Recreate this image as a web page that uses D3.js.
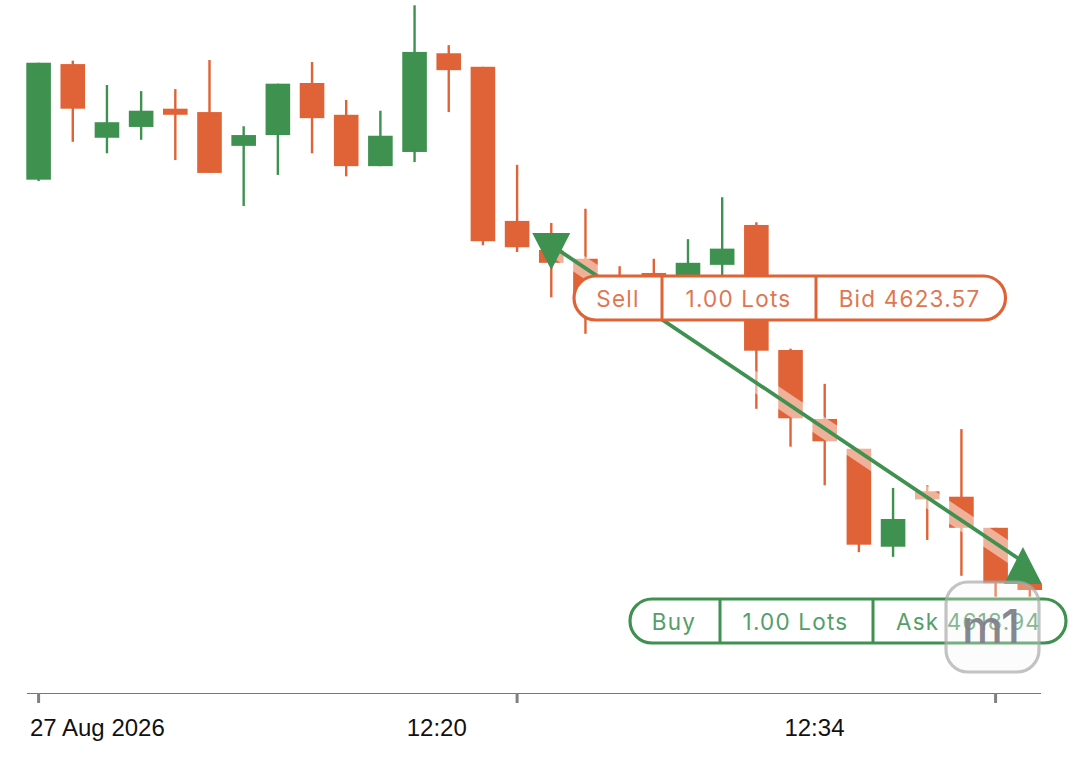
<!DOCTYPE html>
<html>
<head>
<meta charset="utf-8">
<script src="https://cdn.jsdelivr.net/npm/d3@7"></script>
<style>html,body{margin:0;padding:0;background:#fff;overflow:hidden}svg{display:block}</style>
</head>
<body>
<svg id="chart" width="1082" height="769"></svg>
<script>
const opens  = [4624.64,4626.35,4625.26,4625.42,4625.69,4625.64,4625.14,4625.30,4626.07,4625.60,4624.84,4625.05,4626.51,4626.31,4624.03,4623.60,4623.47,4623.23,4623.26,4623.16,4623.38,4623.97,4622.12,4621.10,4620.66,4619.21,4620.03,4619.95,4619.49,4618.66];
const highs  = [4626.37,4626.40,4626.04,4625.95,4625.98,4626.41,4625.43,4626.06,4626.38,4625.82,4625.66,4627.22,4626.63,4626.31,4624.86,4624.00,4624.21,4623.36,4623.47,4623.76,4624.38,4624.01,4622.14,4621.62,4620.66,4620.08,4620.12,4620.95,4619.49,4618.66];
const lows   = [4624.62,4625.20,4625.03,4625.23,4624.93,4624.74,4624.25,4624.71,4625.03,4624.69,4624.84,4624.90,4625.64,4623.67,4623.57,4622.90,4622.36,4622.86,4622.90,4623.16,4623.23,4621.25,4620.69,4620.12,4619.13,4619.06,4619.31,4618.78,4618.47,4618.47];
const closes = [4626.37,4625.69,4625.49,4625.66,4625.60,4624.74,4625.30,4626.06,4625.55,4624.84,4625.29,4626.53,4626.26,4623.73,4623.64,4623.41,4622.86,4622.90,4623.22,4623.41,4623.62,4622.11,4621.11,4620.77,4619.24,4619.62,4619.91,4619.49,4618.67,4618.57];

const tickIndex   = [0, 14, 28];
const labelIndex  = [1.72, 11.65, 22.7];
const tickLabels  = ["27 Aug 2026", "12:20", "12:34"];

const tradeIndex  = [15, 28.8];
const tradePrices = [4623.67, 4618.99];

const sellCells = ["Sell", "1.00 Lots", "Bid 4623.57"];
const buyCells  = ["Buy", "1.00 Lots", "Ask 4618.94"];
const watermark = "m1";

const GREEN = "#3f9150", ORANGE = "#e06337";
const svg = d3.select("#chart");

const x = d3.scaleLinear().domain([0, 28]).range([38.6, 995.6]);
const y = d3.scaleLinear().domain([4627.298, 4610.0]).range([0, 1169.3]);

const candles = opens.map((o, i) => ({i, o, h: highs[i], l: lows[i], c: closes[i]}));
const bodyW = 24.6;

const gc = svg.append("g");
const colorOf = d => d.c >= d.o ? GREEN : ORANGE;
gc.selectAll(".wick").data(candles).join("line")
  .attr("x1", d => x(d.i)).attr("x2", d => x(d.i))
  .attr("y1", d => y(d.h)).attr("y2", d => y(d.l))
  .attr("stroke", colorOf).attr("stroke-width", 2.4);
gc.selectAll(".body").data(candles).join("rect")
  .attr("x", d => x(d.i) - bodyW / 2).attr("width", bodyW)
  .attr("y", d => y(Math.max(d.o, d.c)))
  .attr("height", d => Math.abs(y(d.o) - y(d.c)))
  .attr("fill", colorOf);

// trade line: translucent halo + green core
const tp = tradeIndex.map((t, i) => [x(t), y(tradePrices[i])]);
const line = d3.line();
svg.append("path").attr("d", line(tp)).attr("fill", "none")
  .attr("stroke", "#fff").attr("stroke-opacity", 0.5).attr("stroke-width", 19);
svg.append("path").attr("d", line(tp)).attr("fill", "none")
  .attr("stroke", GREEN).attr("stroke-width", 3.8);

// trade markers
const triPath = (cx, cy, dir) => d3.line()([
  [cx - 19, cy - dir * 19], [cx + 19, cy - dir * 19], [cx, cy + dir * 18]
]) + "Z";
svg.append("path").attr("d", triPath(tp[0][0], 252, 1)).attr("fill", GREEN);
svg.append("path").attr("d", triPath(tp[1][0], 565, -1)).attr("fill", GREEN);

// badges
function badge(left, top, w, h, dividers, centers, cells, color, textColor) {
  const g = svg.append("g");
  g.append("rect").attr("x", left).attr("y", top).attr("width", w).attr("height", h)
    .attr("rx", h / 2).attr("fill", "#fff").attr("stroke", color).attr("stroke-width", 3.2);
  g.selectAll("line").data(dividers).join("line")
    .attr("x1", d => d).attr("x2", d => d).attr("y1", top).attr("y2", top + h)
    .attr("stroke", color).attr("stroke-width", 3);
  g.selectAll("text").data(cells).join("text")
    .attr("x", (d, i) => centers[i]).attr("y", top + h / 2 + 8.5)
    .attr("text-anchor", "middle")
    .attr("font-family", "Inter, 'Open Sans', sans-serif")
    .attr("font-size", 22.5).attr("letter-spacing", 1.2)
    .attr("fill", textColor).text(d => d);
}
badge(574, 276, 431.5, 44, [662, 816], [618, 738.5, 909.5], sellCells, ORANGE, "#e07650");
badge(630, 599, 436, 44, [720, 873], [674, 795.5, 968.5], buyCells, GREEN, "#559e68");

// x axis
const ax = svg.append("g");
ax.append("line").attr("x1", 27).attr("x2", 1041).attr("y1", 693.5).attr("y2", 693.5)
  .attr("stroke", "#777").attr("stroke-width", 1.2);
ax.selectAll(".tick").data(tickIndex).join("line")
  .attr("x1", d => x(d)).attr("x2", d => x(d)).attr("y1", 693).attr("y2", 703)
  .attr("stroke", "#808080").attr("stroke-width", 3);
ax.selectAll("text").data(tickLabels).join("text")
  .attr("x", (d, i) => x(labelIndex[i])).attr("y", 736)
  .attr("text-anchor", "middle")
  .attr("font-family", "'Liberation Sans', Arial, sans-serif")
  .attr("font-size", 24).attr("fill", "#111").text(d => d);

// watermark
svg.append("rect").attr("x", 946).attr("y", 582).attr("width", 93).attr("height", 90).attr("rx", 22)
  .attr("fill", "#f4f4f4").attr("fill-opacity", 0.3).attr("stroke", "#aaa").attr("stroke-opacity", 0.7).attr("stroke-width", 3.2);
svg.append("text").attr("x", 991).attr("y", 643).attr("text-anchor", "middle")
  .attr("font-family", "Inter, sans-serif").attr("font-size", 46).attr("font-weight", 500)
  .attr("fill", "#808088").attr("fill-opacity", 0.95).text(watermark);
</script>
</body>
</html>
